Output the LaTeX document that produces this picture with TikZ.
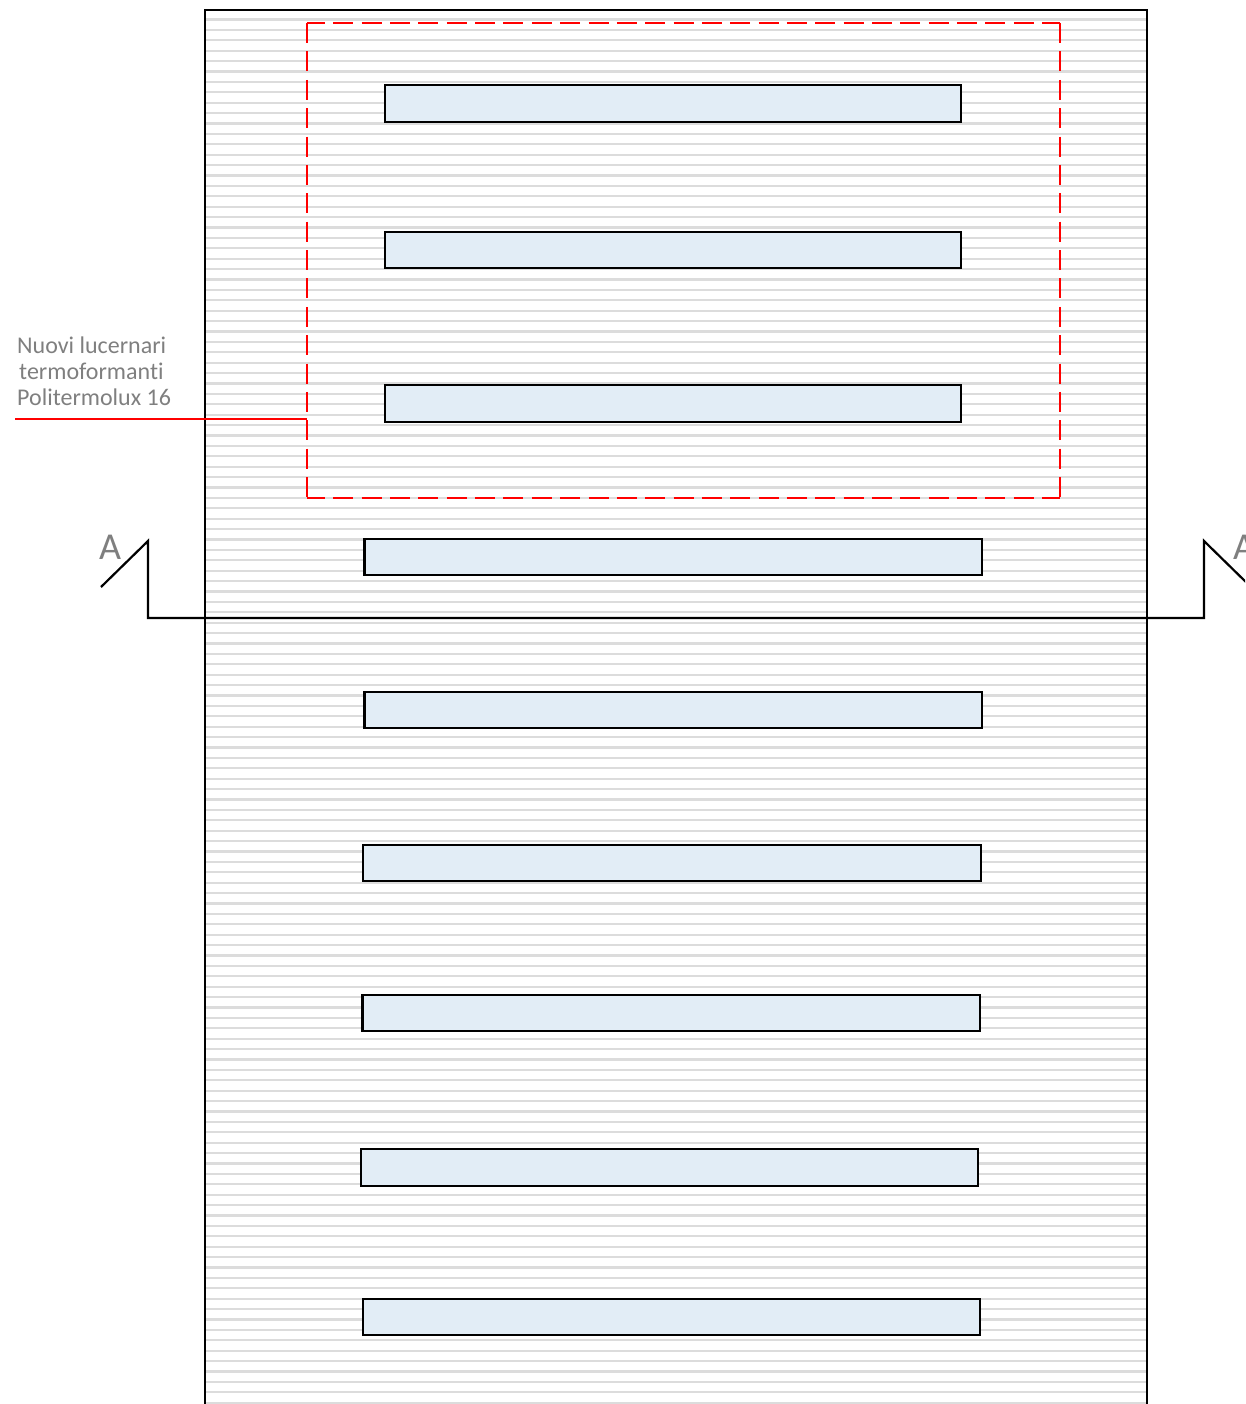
\documentclass[tikz,border=0pt]{standalone}
\usepackage{fontspec}
\setmainfont[Ligatures=NoCommon]{Carlito}
\definecolor{hatch}{HTML}{DCDCDC}
\definecolor{sky}{HTML}{E2EDF6}
\definecolor{labelgray}{HTML}{7F7F7F}
\definecolor{framered}{HTML}{FF0000}
\tikzset{
  skylight/.style={draw=black,fill=sky,line width=2.3pt,inner sep=0pt,outer sep=0pt},
  hatchline/.style={draw=hatch,line width=2.2pt},
  wall/.style={draw=black,line width=2pt},
  section/.style={draw=black,line width=2.2pt,line join=miter},
  framebox/.style={inner sep=0pt,outer sep=0pt,minimum width=753pt,minimum height=475pt},
  dashside/.style={draw=framered,line width=2.4pt,dash pattern=on 20pt off 8.38pt},
  dashtop/.style={draw=framered,line width=2.4pt,dash pattern=on 20pt off 8.35pt,dash phase=2pt},
  leader/.style={draw=framered,line width=2.2pt},
  calltext/.style={text=labelgray,font=\fontsize{24}{26}\selectfont,anchor=base west,inner sep=0pt},
  sectext/.style={text=labelgray,font=\fontsize{38}{40}\selectfont,anchor=base west,inner sep=0pt}
}
\begin{document}
\begin{tikzpicture}[x=1pt,y=-1pt]
\useasboundingbox (0,0) rectangle (1245,1404);
\clip (0,0) rectangle (1245,1404);
\foreach \k in {0,...,133} {
  \draw[hatchline] (205,{19.5+10.4*\k}) -- (1147,{19.5+10.4*\k});
}
% outline of the roof
\coordinate (wl) at (205,1404);
\coordinate (wtl) at (205,10);
\coordinate (wtr) at (1147,10);
\coordinate (wr) at (1147,1404);
\draw[wall] (wl) -- (wtl) -- (wtr) -- (wr);
% skylights
\node[skylight,minimum width=576pt,minimum height=37pt] (s1) at (673,103.5) {};
\node[skylight,minimum width=576pt,minimum height=36pt] (s2) at (673,250) {};
\node[skylight,minimum width=576pt,minimum height=37pt] (s3) at (673,403.5) {};
\node[skylight,minimum width=617.5pt,minimum height=36pt] (s4) at (673.25,557) {};
\node[skylight,minimum width=617.5pt,minimum height=36pt] (s5) at (673.25,710) {};
\node[skylight,minimum width=618pt,minimum height=36pt] (s6) at (672,863) {};
\node[skylight,minimum width=617.5pt,minimum height=36pt] (s7) at (671.25,1013) {};
\node[skylight,minimum width=617pt,minimum height=37pt] (s8) at (669.5,1167.5) {};
\node[skylight,minimum width=617pt,minimum height=36pt] (s9) at (671.5,1317) {};
% dashed frame
\node[framebox] (frame) at (683.5,260.5) {};
\draw[dashside] (frame.north west) -- (frame.south west);
\draw[dashside] (frame.north east) -- (frame.south east);
\draw[dashtop] (frame.north west) -- (frame.north east);
\draw[dashtop] (frame.south west) -- (frame.south east);
\coordinate (leadstart) at (15,419);
\draw[leader] (leadstart) -- (leadstart -| frame.west);
% section line
\coordinate (a1) at (101,587);
\coordinate (a2) at (148,541);
\coordinate (a3) at (148,618);
\coordinate (b3) at (1204,618);
\coordinate (b2) at (1204,541);
\coordinate (b1) at (1251,587);
\draw[section] (a1) -- (a2) -- (a3) -- (b3) -- (b2) -- (b1);
% labels
\node[calltext] (t1) at (17,353) {Nuovi lucernari};
\node[calltext] (t2) at (19,379) {termoformanti};
\node[calltext] (t3) at (17,405) {Politermolux 16};
\node[sectext] (al) at (99,559) {A};
\node[sectext] (ar) at (1233,559) {A};
\end{tikzpicture}
\end{document}
